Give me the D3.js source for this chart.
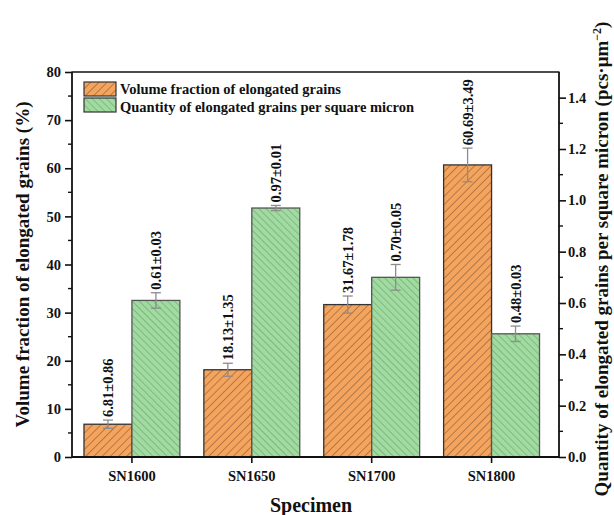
<!DOCTYPE html>
<html><head><meta charset="utf-8">
<script src="https://cdn.jsdelivr.net/npm/d3@7"></script>
<style>
body{margin:0;background:#fff;}
svg text{font-family:"Liberation Serif","Times New Roman",serif;font-weight:bold;fill:#111;}
</style></head>
<body><svg id="c" width="614" height="515"></svg>
<script>
const categories = ["SN1600","SN1650","SN1700","SN1800"];
const volumeFraction = [6.81, 18.13, 31.67, 60.69];
const volumeErr = [0.86, 1.35, 1.78, 3.49];
const quantity = [0.61, 0.97, 0.70, 0.48];
const quantityErr = [0.03, 0.01, 0.05, 0.03];
const leftTicks = [0,10,20,30,40,50,60,70,80];
const rightTicks = [0.0,0.2,0.4,0.6,0.8,1.0,1.2,1.4];
const seriesNames = ["Volume fraction of elongated grains","Quantity of elongated grains per square micron"];

const svg = d3.select("#c");
const L = 72, R = 559, T = 72, B = 457;

const x = d3.scaleBand().domain(categories).range([L, L + 479.5]).padding(0);
const yL = d3.scaleLinear().domain([0, 80]).range([B, T]);
const yR = d3.scaleLinear().domain([0, 1.5]).range([B, T]);
const bw = x.bandwidth() * 0.4;

const defs = svg.append("defs");
function hatch(id, bg, line, spacing, angle, sw){
  const p = defs.append("pattern").attr("id", id).attr("patternUnits","userSpaceOnUse")
    .attr("width", spacing).attr("height", spacing).attr("patternTransform", `rotate(${angle})`);
  p.append("rect").attr("width", spacing).attr("height", spacing).attr("fill", bg);
  p.append("line").attr("x1", 0).attr("y1", 0).attr("x2", 0).attr("y2", spacing)
    .attr("stroke", line).attr("stroke-width", sw);
}
hatch("hOr", "#F5A45E", "#7d5330", 5.8, 45, 1.1);
hatch("hGr", "#A0DCA0", "#6a8f6c", 5.0, -45, 1);

// bars
const g = svg.append("g");
categories.forEach((c, i) => {
  const cx = x(c) + x.bandwidth()/2;
  g.append("rect").attr("x", cx - bw).attr("y", yL(volumeFraction[i]))
    .attr("width", bw).attr("height", B - yL(volumeFraction[i]))
    .attr("fill", "url(#hOr)").attr("stroke", "#333").attr("stroke-width", 1.3);
  g.append("rect").attr("x", cx).attr("y", yR(quantity[i]))
    .attr("width", bw).attr("height", B - yR(quantity[i]))
    .attr("fill", "url(#hGr)").attr("stroke", "#555").attr("stroke-width", 1.3);
});

// error bars and labels
function errBar(cx, yScale, v, e, label){
  const y1 = yScale(v + e), y0 = yScale(v - e);
  const eg = svg.append("g").attr("stroke", "#8c8c8c").attr("stroke-width", 1.3);
  eg.append("line").attr("x1", cx).attr("x2", cx).attr("y1", y1).attr("y2", y0);
  eg.append("line").attr("x1", cx-5).attr("x2", cx+5).attr("y1", y1).attr("y2", y1);
  eg.append("line").attr("x1", cx-5).attr("x2", cx+5).attr("y1", y0).attr("y2", y0);
  svg.append("text").attr("transform", `translate(${cx+5},${y1-3}) rotate(-90)`)
    .attr("text-anchor", "start").attr("font-size", 14.5).text(label);
}
categories.forEach((c, i) => {
  const cx = x(c) + x.bandwidth()/2;
  errBar(cx - bw/2, yL, volumeFraction[i], volumeErr[i], `${volumeFraction[i].toFixed(2)}±${volumeErr[i].toFixed(2)}`);
  errBar(cx + bw/2, yR, quantity[i], quantityErr[i], `${quantity[i].toFixed(2)}±${quantityErr[i].toFixed(2)}`);
});

// top frame line
svg.append("line").attr("x1", L-0.5).attr("x2", R+0.5).attr("y1", T).attr("y2", T)
  .attr("stroke", "#111").attr("stroke-width", 1.3);

const tickFont = sel => sel.selectAll("text").attr("font-size", 14.5).attr("font-family", '"Liberation Serif",serif').attr("font-weight", "bold").attr("fill", "#111");

// left axis
const leftAxis = d3.axisLeft(yL).tickValues(leftTicks).tickSize(7).tickPadding(4).tickFormat(d3.format("d"));
const gl = svg.append("g").attr("transform", `translate(${L},0)`).call(leftAxis);
gl.selectAll(".tick line").attr("stroke", "#111").attr("stroke-width", 1.6);
gl.select(".domain").attr("stroke", "#111").attr("stroke-width", 1.8).attr("d", `M0,${B}V${T}`);
tickFont(gl);
d3.range(5, 80, 10).forEach(v => gl.append("line").attr("x1", 0).attr("x2", -4).attr("y1", yL(v)).attr("y2", yL(v)).attr("stroke", "#111").attr("stroke-width", 1.4));

// right axis
const rightAxis = d3.axisRight(yR).tickValues(rightTicks).tickSize(7).tickPadding(2).tickFormat(d3.format(".1f"));
const gr = svg.append("g").attr("transform", `translate(${R},0)`).call(rightAxis);
gr.selectAll(".tick line").attr("stroke", "#111").attr("stroke-width", 1.6);
gr.select(".domain").attr("stroke", "#111").attr("stroke-width", 1.8).attr("d", `M0,${B}V${T}`);
tickFont(gr);
d3.range(0.1, 1.5, 0.2).forEach(v => gr.append("line").attr("x1", 0).attr("x2", 4).attr("y1", yR(v)).attr("y2", yR(v)).attr("stroke", "#111").attr("stroke-width", 1.4));

// bottom axis
const bottomAxis = d3.axisBottom(x).tickSize(6).tickPadding(8);
const gb = svg.append("g").attr("transform", `translate(0,${B})`).call(bottomAxis);
gb.select(".domain").attr("stroke", "#111").attr("stroke-width", 1.8).attr("d", `M${L},0H${R}`);
gb.selectAll(".tick line").attr("stroke", "#111").attr("stroke-width", 1.6);
tickFont(gb);

// axis titles
svg.append("text").attr("transform", `translate(29,${(T+B)/2}) rotate(-90)`).attr("text-anchor", "middle")
  .attr("font-size", 19).text("Volume fraction of elongated grains (%)");
const rt = svg.append("text").attr("transform", `translate(608,259) rotate(-90)`).attr("text-anchor", "middle")
  .attr("font-size", 19);
rt.append("tspan").text("Quantity of elongated grains per square micron (pcs·μm");
rt.append("tspan").attr("dy", -7).attr("font-size", 12).text("−2");
rt.append("tspan").attr("dy", 7).text(")");
svg.append("text").attr("x", 311).attr("y", 512).attr("text-anchor", "middle").attr("font-size", 20).text("Specimen");

// legend
const lg = svg.append("g");
const legFills = ["url(#hOr)", "url(#hGr)"];
seriesNames.forEach((s, i) => {
  lg.append("rect").attr("x", 84).attr("y", 82 + i*16).attr("width", 32).attr("height", 14)
    .attr("fill", legFills[i]).attr("stroke", "#333").attr("stroke-width", 1.2);
  lg.append("text").attr("x", 120).attr("y", 94 + i*18).attr("font-size", 14.5).text(s);
});
</script></body></html>
